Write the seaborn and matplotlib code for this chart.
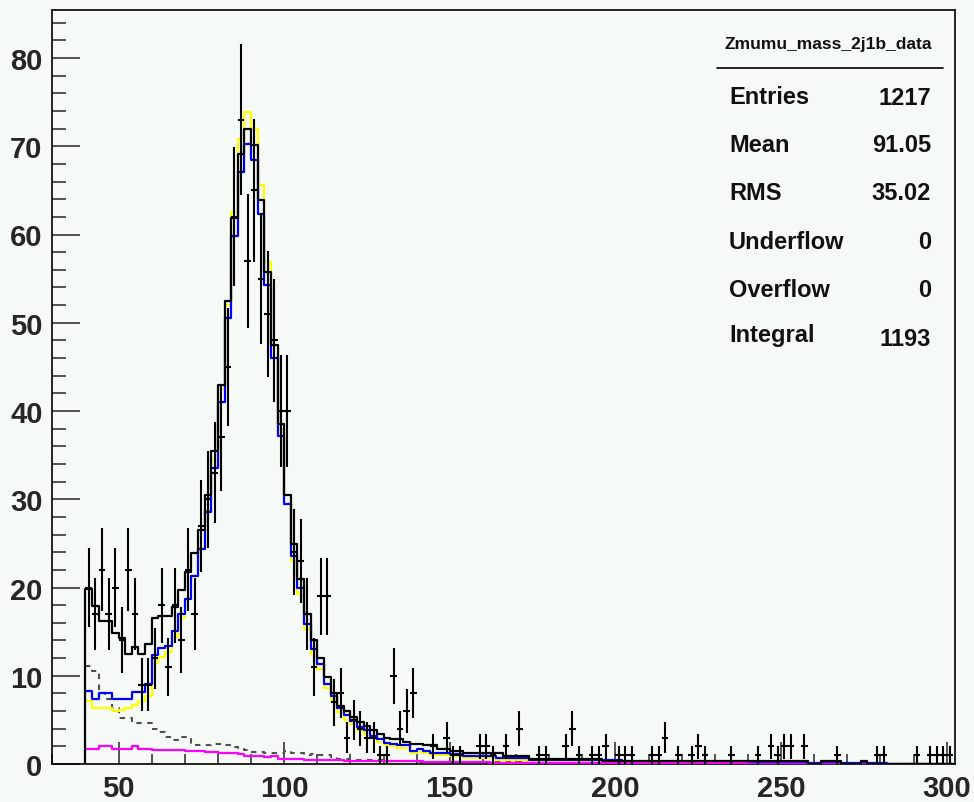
import numpy as np
import pandas as pd
import matplotlib
matplotlib.use("Agg")
import matplotlib.pyplot as plt
import seaborn as sns

# ---------------- data (bins of 2 GeV from 40 to 302) ----------------
bin_edges = np.arange(40, 304, 2)

data_counts = [
    20, 17, 22, 17, 20, 14, 22, 17, 9, 9,
    12, 18, 11, 18, 14, 22, 17, 27, 30, 33,
    37, 45, 62, 73, 57, 65, 55, 51, 48, 40,
    40, 24, 23, 17, 11, 19, 19, 7, 8, 3,
    5, 4, 3, 3, 1, 1, 10, 4, 6, 8,
    0, 0, 2, 0, 3, 1, 1, 0, 0, 2,
    2, 1, 0, 2, 0, 4, 0, 0, 1, 1,
    0, 0, 2, 4, 1, 0, 1, 1, 2, 0,
    1, 1, 1, 0, 0, 1, 1, 3, 0, 1,
    0, 1, 2, 1, 0, 0, 0, 1, 0, 0,
    0, 1, 0, 2, 1, 2, 2, 0, 2, 0,
    0, 0, 0, 1, 0, 0, 0, 0, 0, 1,
    1, 0, 0, 0, 0, 1, 0, 1, 1, 1,
    1]

total_mc = [
    19.8, 17.9, 16.2, 16.2, 14.8, 14.3, 12.5, 13.3, 12.5, 13.6,
    16.6, 16.8, 16.8, 17.8, 19.7, 21.8, 23.9, 26.5, 30.5, 35.5,
    43.0, 52.5, 61.9, 69.1, 71.9, 70.1, 63.9, 55.8, 47.5, 38.5,
    30.5, 24.9, 21.0, 17.0, 14.0, 12.0, 9.9, 8.0, 6.6, 6.0,
    5.3, 4.8, 4.3, 3.8, 3.4, 3.0, 2.8, 2.8, 2.5, 2.3,
    2.3, 2.1, 2.1, 1.7, 1.7, 1.5, 1.5, 1.3, 1.3, 1.3,
    1.3, 1.3, 1.3, 0.9, 0.9, 0.9, 0.9, 0.6, 0.6, 0.6,
    0.6, 0.6, 0.6, 0.6, 0.6, 0.55, 0.55, 0.55, 0.35, 0.35,
    0.35, 0.35, 0.35, 0.35, 0.35, 0.35, 0.35, 0.35, 0.35, 0.35,
    0.35, 0.35, 0.35, 0.35, 0.35, 0.35, 0.35, 0.35, 0.35, 0.35,
    0.35, 0.35, 0.35, 0.35, 0.35, 0.35, 0.35, 0.35, 0.35, 0.0,
    0.0, 0.3, 0.3, 0.3, 0.0, 0.0, 0.0, 0.3, 0.0, 0.0,
    0.0, 0.0, 0.0, 0.0, 0.0, 0.0, 0.0, 0.0, 0.0, 0.0,
    0.0]

signal_blue = [
    8.3, 7.4, 8.1, 8.1, 7.4, 7.4, 7.4, 8.2, 8.2, 9.1,
    12.4, 13.2, 13.4, 15.1, 17.0, 18.7, 21.3, 24.4, 28.5, 33.5,
    41.0, 50.5, 59.8, 67.1, 70.3, 68.4, 62.3, 54.3, 46.0, 37.2,
    29.5, 23.6, 19.9, 15.9, 13.0, 11.3, 9.1, 7.7, 6.4, 5.5,
    4.9, 4.2, 3.8, 3.2, 2.8, 2.4, 2.3, 2.1, 2.1, 1.5,
    1.7, 1.5, 1.25, 1.25, 1.25, 1.1, 1.1, 0.95, 0.95, 0.95,
    0.95, 0.95, 0.65, 0.65, 0.65, 0.65, 0.65, 0.4, 0.4, 0.4,
    0.4, 0.4, 0.4, 0.4, 0.4, 0.4, 0.4, 0.4, 0.4, 0.4,
    0.4, 0.25, 0.25, 0.25, 0.25, 0.25, 0.25, 0.25, 0.25, 0.25,
    0.25, 0.25, 0.25, 0.25, 0.25, 0.25, 0.25, 0.25, 0.25, 0.25,
    0.2, 0.2, 0.2, 0.2, 0.2, 0.2, 0.2, 0.2, 0.2, 0.1,
    0.1, 0.1, 0.1, 0.1, 0.1, 0.1, 0.1, 0.1, 0.1, 0.1,
    0.1, 0.05, 0.05, 0.05, 0.05, 0.05, 0.05, 0.05, 0.05, 0.05,
    0.05]

signal_yellow = [
    7.1, 6.4, 6.3, 6.3, 6.0, 6.15, 6.4, 6.7, 7.1, 7.7,
    11.5, 12.1, 12.7, 14.4, 16.6, 18.7, 21.3, 24.5, 28.8, 34.5,
    42.5, 52.0, 62.6, 70.8, 73.9, 71.9, 65.6, 56.9, 47.5, 38.0,
    29.5, 23.0, 19.3, 15.3, 12.5, 10.8, 8.6, 7.2, 5.9, 5.0,
    4.5, 3.8, 3.4, 2.9, 2.5, 2.1, 2.0, 1.8, 1.8, 1.3,
    1.4, 1.2, 1.0, 1.0, 1.0, 0.9, 0.9, 0.7, 0.7, 0.7,
    0.7, 0.7, 0.4, 0.4, 0.4, 0.4, 0.4, 0.3, 0.3, 0.3,
    0.3, 0.2, 0.2, 0.2, 0.2, 0.2, 0.1, 0.1, 0.1, 0.1,
    0.0, 0.0, 0.0, 0.0, 0.0, 0.0, 0.0, 0.0, 0.0, 0.0,
    0.0, 0.0, 0.0, 0.0, 0.0, 0.0, 0.0, 0.0, 0.0, 0.0,
    0.0, 0.0, 0.0, 0.0, 0.0, 0.0, 0.0, 0.0, 0.0, 0.0,
    0.0, 0.0, 0.0, 0.0, 0.0, 0.0, 0.0, 0.0, 0.0, 0.0,
    0.0, 0.0, 0.0, 0.0, 0.0, 0.0, 0.0, 0.0, 0.0, 0.0,
    0.0]

background_gray = [
    11.1, 10.5, 8.1, 7.4, 6.4, 5.2, 5.2, 4.6, 4.6, 4.6,
    4.0, 3.6, 3.1, 2.75, 3.1, 3.1, 2.1, 2.1, 2.1, 2.3,
    2.3, 2.1, 1.9, 1.85, 1.6, 1.4, 1.4, 1.25, 1.3, 1.3,
    1.5, 1.3, 1.3, 1.0, 1.1, 1.0, 1.0, 0.8, 0.6, 0.6,
    0.5, 0.5, 0.45, 0.4, 0.4, 0.35, 0.35, 0.3, 0.3, 0.3,
    0.25, 0.25, 0.25, 0.25, 0.25, 0.25, 0.25, 0.25, 0.25, 0.25,
    0.2, 0.2, 0.2, 0.2, 0.2, 0.2, 0.2, 0.2, 0.2, 0.2,
    0.1, 0.1, 0.1, 0.1, 0.1, 0.1, 0.1, 0.1, 0.1, 0.1,
    0.05, 0.05, 0.05, 0.05, 0.05, 0.05, 0.05, 0.05, 0.05, 0.05,
    0.0, 0.0, 0.0, 0.0, 0.0, 0.0, 0.0, 0.0, 0.0, 0.0,
    0.0, 0.0, 0.0, 0.0, 0.0, 0.0, 0.0, 0.0, 0.0, 0.0,
    0.0, 0.0, 0.0, 0.0, 0.0, 0.0, 0.0, 0.0, 0.0, 0.0,
    0.0, 0.0, 0.0, 0.0, 0.0, 0.0, 0.0, 0.0, 0.0, 0.0,
    0.0]

background_magenta = [
    1.75, 1.75, 2.0, 2.0, 1.75, 1.75, 1.75, 2.0, 1.75, 1.75,
    1.6, 1.6, 1.6, 1.6, 1.6, 1.45, 1.45, 1.45, 1.4, 1.4,
    1.3, 1.3, 1.3, 1.13, 0.9, 0.9, 0.9, 0.8, 0.9, 0.6,
    0.6, 0.6, 0.6, 0.5, 0.45, 0.45, 0.45, 0.45, 0.45, 0.35,
    0.35, 0.35, 0.35, 0.35, 0.35, 0.3, 0.3, 0.3, 0.3, 0.3,
    0.3, 0.2, 0.2, 0.2, 0.2, 0.2, 0.2, 0.2, 0.2, 0.2,
    0.2, 0.12, 0.12, 0.12, 0.12, 0.12, 0.12, 0.12, 0.12, 0.12,
    0.06, 0.06, 0.06, 0.06, 0.06, 0.06, 0.06, 0.06, 0.06, 0.06,
    0.06, 0.06, 0.06, 0.06, 0.06, 0.06, 0.06, 0.06, 0.06, 0.06,
    0.06, 0.06, 0.06, 0.06, 0.06, 0.06, 0.06, 0.06, 0.06, 0.06,
    0.03, 0.03, 0.03, 0.03, 0.03, 0.03, 0.03, 0.03, 0.03, 0.03,
    0.03, 0.03, 0.03, 0.03, 0.03, 0.03, 0.03, 0.03, 0.03, 0.03,
    0.03, 0.03, 0.03, 0.03, 0.03, 0.03, 0.03, 0.03, 0.03, 0.03,
    0.03]

x_tick_labels = ["50", "100", "150", "200", "250", "300"]
y_tick_labels = ["0", "10", "20", "30", "40", "50", "60", "70", "80"]

stats_title = "Zmumu_mass_2j1b_data"
stats_names = ["Entries", "Mean", "RMS", "Underflow", "Overflow", "Integral"]
stats_values = ["1217", "91.05", "35.02", "0", "0", "1193"]

# ---------------- style ----------------
sns.set_theme(style="ticks")
plt.rcParams["font.family"] = ["Liberation Sans", "DejaVu Sans"]

W, H = 974, 803
BG = "#f5faf7"
fig = plt.figure(figsize=(W / 100, H / 100), dpi=100, facecolor=BG)

L, R, T, B = 52.3, 955.0, 11.0, 765.0
ax = fig.add_axes([L / W, 1 - B / H, (R - L) / W, (B - T) / H])
ax.set_facecolor(BG)

centers = (bin_edges[:-1] + bin_edges[1:]) / 2.0


def draw_hist(values, color, ls="-", lw=1.6, z=2):
    df = pd.DataFrame({"mass": centers, "w": np.asarray(values, dtype=float)})
    sns.histplot(data=df, x="mass", weights="w", bins=list(bin_edges),
                 element="step", fill=False, color=color, linewidth=lw,
                 linestyle=ls, ax=ax, zorder=z)


draw_hist(background_gray, "#505050", ls=(0, (2.6, 2.6)), lw=1.5, z=2)
draw_hist(signal_yellow, "#ffff00", z=3)
draw_hist(signal_blue, "#0000ff", z=4)
draw_hist(background_magenta, "#ff00ff", z=5)
draw_hist(total_mc, "#000000", z=6)

# starting edge of the total histogram (ROOT draws it up from zero)
ax.vlines(bin_edges[0], 0, total_mc[0], color="black", lw=1.6, zorder=6)

counts = np.asarray(data_counts, dtype=float)
mask = counts > 0
ax.errorbar(centers[mask], counts[mask], xerr=1.0, yerr=np.sqrt(counts[mask]),
            fmt="none", ecolor="black", elinewidth=1.5, capsize=0, zorder=7)

ax.set_xlim(30, 302.5)
ax.set_ylim(0, (B - T) / 8.825)
ax.set_xlabel("")
ax.set_ylabel("")

ax.set_xticks([50, 100, 150, 200, 250, 300])
ax.set_xticklabels(x_tick_labels)
ax.set_xticks(np.arange(30, 302, 10), minor=True)
ax.set_yticks(np.arange(0, 81, 10))
ax.set_yticklabels(y_tick_labels)
ax.set_yticks(np.arange(0, 86, 2), minor=True)

ax.tick_params(axis="x", which="major", direction="in", length=15.5, width=1.1,
               pad=7, labelsize=21, top=False)
ax.tick_params(axis="x", which="minor", direction="in", length=7.5, width=1.1,
               top=False)
ax.tick_params(axis="y", which="major", direction="in", length=20, width=1.1,
               pad=7, labelsize=21, right=False)
ax.tick_params(axis="y", which="minor", direction="in", length=10, width=1.1,
               right=False)
for lab in ax.get_xticklabels() + ax.get_yticklabels():
    lab.set_fontweight("bold")

for sp in ax.spines.values():
    sp.set_visible(True)
    sp.set_color("black")
    sp.set_linewidth(1.2)


# ---------------- stats box ----------------
def fx(px):
    return px / W


def fy(py):
    return 1 - py / H


fig.text(fx(828), fy(49), stats_title, ha="center", va="baseline",
         fontsize=12.5, fontweight="bold", color="#111111", zorder=11)
fig.add_artist(plt.Line2D([fx(717), fx(943)], [fy(69), fy(69)],
                          transform=fig.transFigure, color="black", lw=1.2,
                          zorder=11))
name_base = [104, 152, 200, 249, 297, 342]
val_base = [105, 152, 200, 249, 297, 346]
for nm, v, yb1, yb2 in zip(stats_names, stats_values, name_base, val_base):
    fig.text(fx(729), fy(yb1), nm, ha="left", va="baseline", fontsize=17,
             fontweight="bold", color="#111111", zorder=11)
    fig.text(fx(931), fy(yb2), v, ha="right", va="baseline", fontsize=17,
             fontweight="bold", color="#111111", zorder=11)

fig.savefig("out.png", dpi=100, facecolor=BG)
